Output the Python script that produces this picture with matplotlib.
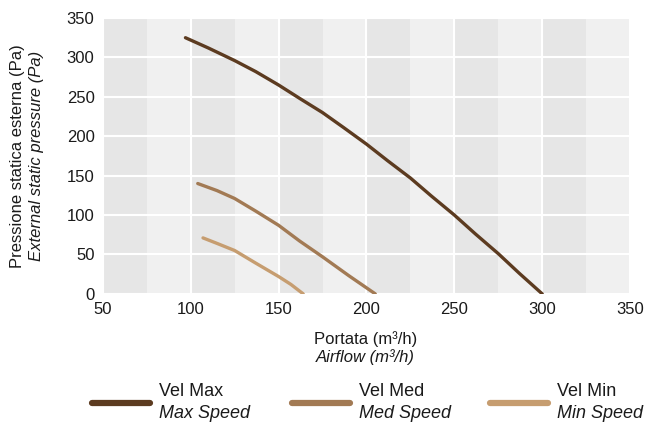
import numpy as np
import matplotlib.pyplot as plt
from matplotlib.lines import Line2D

plt.rcParams['font.family'] = ['Liberation Sans', 'DejaVu Sans']

# curves (airflow m3/h, pressure Pa)
max_x = [97, 110, 125, 137, 150, 162, 175, 187, 200, 212, 225, 237, 250, 262, 275, 287, 300]
max_y = [325, 312, 296, 282, 265, 248, 230, 211, 190, 169, 147, 124, 100, 76, 51, 26, 0]
med_x = [104, 115, 125, 137, 150, 162, 175, 190, 205]
med_y = [140, 131, 121, 105, 87, 67, 47, 23, 0]
min_x = [107, 115, 125, 137, 150, 157, 164]
min_y = [71, 64, 55, 39, 22, 12, 0]

xticks = [50, 100, 150, 200, 250, 300, 350]
yticks = [0, 50, 100, 150, 200, 250, 300, 350]

c_max = '#5c3b20'
c_med = '#a27a54'
c_min = '#c69d70'
txt = '#1a1a1a'

fig = plt.figure(figsize=(6.55, 4.29), dpi=100)
ax = fig.add_axes([0.157, 0.315, 0.805, 0.643])

# alternating column shading, 25 wide
for x0 in np.arange(50, 350, 25):
    shade = '#e6e6e6' if (x0 // 25) % 2 == 0 else '#f0f0f0'
    ax.axvspan(x0, x0 + 25, color=shade, lw=0, zorder=0)

ax.set_xlim(50, 350)
ax.set_ylim(0, 350)
ax.set_xticks(xticks)
ax.set_yticks(yticks)
ax.grid(True, color='white', lw=1.5, zorder=1)
ax.set_axisbelow(True)
for s in ax.spines.values():
    s.set_visible(False)
ax.tick_params(length=0, labelsize=12, colors=txt, pad=6)

ax.plot(max_x, max_y, color=c_max, lw=2.4, solid_capstyle='round', solid_joinstyle='round', zorder=3)
ax.plot(med_x, med_y, color=c_med, lw=2.4, solid_capstyle='round', solid_joinstyle='round', zorder=3)
ax.plot(min_x, min_y, color=c_min, lw=2.4, solid_capstyle='round', solid_joinstyle='round', zorder=3)

# axis titles, two lines each (regular + italic)
fig.text(0.558, 1 - 339 / 429, 'Portata (m³/h)', ha='center', va='center', fontsize=12, color=txt)
fig.text(0.558, 1 - 357 / 429, 'Airflow (m³/h)', ha='center', va='center', fontsize=12,
         style='italic', color=txt)
fig.text(18 / 655, 0.636, 'Pressione statica esterna (Pa)', rotation=90, ha='center', va='center',
         fontsize=12, color=txt)
fig.text(37 / 655, 0.636, 'External static pressure (Pa)', rotation=90, ha='center', va='center',
         fontsize=12, style='italic', color=txt)

# legend
leg = [('Vel Max', 'Max Speed', c_max, 92), ('Vel Med', 'Med Speed', c_med, 292),
       ('Vel Min', 'Min Speed', c_min, 490)]
for top, bottom, col, px in leg:
    yl = 1 - 403 / 429
    fig.add_artist(Line2D([px / 655, (px + 58) / 655], [yl, yl], color=col, lw=4.5,
                          solid_capstyle='round', transform=fig.transFigure))
    fig.text((px + 67) / 655, 1 - 391 / 429, top, ha='left', va='center', fontsize=13, color=txt)
    fig.text((px + 67) / 655, 1 - 414 / 429, bottom, ha='left', va='center', fontsize=13,
             style='italic', color=txt)

fig.savefig('out.png', dpi=100)
